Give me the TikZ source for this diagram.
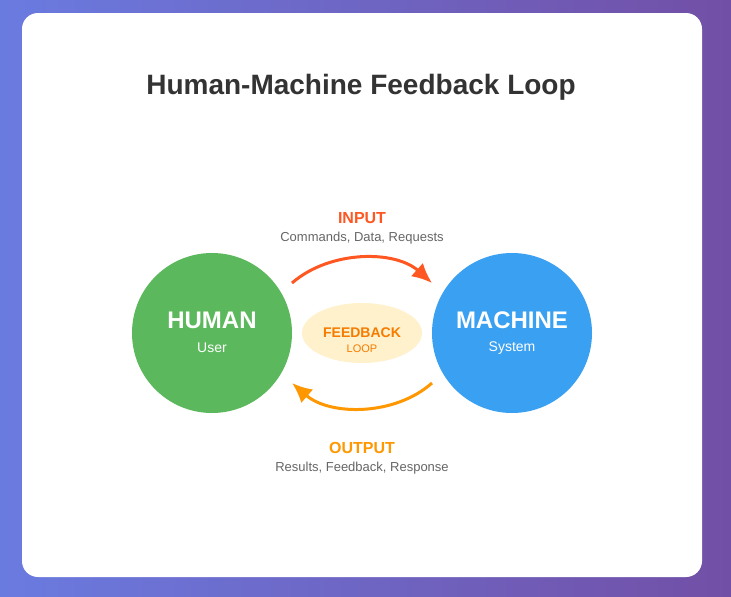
\documentclass[tikz,border=0pt]{standalone}
\usepackage{fontspec}
\setmainfont{Liberation Sans}
\usetikzlibrary{arrows.meta,shapes.geometric}
\definecolor{bgA}{HTML}{6A7BE0}
\definecolor{bgB}{HTML}{724FA6}
\definecolor{humanc}{HTML}{5CB85C}
\definecolor{machinec}{HTML}{3AA0F2}
\definecolor{inc}{HTML}{FF5722}
\definecolor{outc}{HTML}{FF9800}
\definecolor{fbfill}{HTML}{FFF1CC}
\definecolor{fbtext}{HTML}{F57C00}
\definecolor{titlec}{HTML}{333333}
\definecolor{subc}{HTML}{666666}
\tikzset{
  actor/.style={circle,minimum size=160pt,inner sep=0pt},
  big/.style={text=white,font=\bfseries\fontsize{24}{28}\selectfont},
  small/.style={text=white,font=\fontsize{14}{16}\selectfont},
  head/.style={font=\bfseries\fontsize{16}{19}\selectfont},
  note/.style={text=subc,font=\fontsize{13}{15}\selectfont},
  flow/.style={line width=3pt,-{Latex[length=20pt,width=18pt]}}
}
\begin{document}
\begin{tikzpicture}[x=1pt,y=-1pt,inner sep=0pt]
\useasboundingbox (0,0) rectangle (731,597);
\shade[left color=bgA,right color=bgB] (0,0) rectangle (731,597);
\fill[white,rounded corners=16pt] (22,13) rectangle (702,577);
\node[text=titlec,font=\bfseries\fontsize{28}{32}\selectfont] (title) at (361,87) {Human-Machine Feedback Loop};
% the two sides
\node[actor,fill=humanc] (human) at (212,333) {};
\node[big] at (212,320) {HUMAN};
\node[small] at (212,348) {User};
\node[actor,fill=machinec] (machine) at (512,333) {};
\node[big] at (512,320) {MACHINE};
\node[small] at (512,348) {System};
% the loop in the middle
\node[ellipse,fill=fbfill,minimum width=120pt,minimum height=60pt] (fb) at (362,333) {};
\node[text=fbtext,font=\bfseries\fontsize{14}{16}\selectfont] at (362,333) {FEEDBACK};
\node[text=fbtext,font=\fontsize{11}{13}\selectfont] at (362,349) {LOOP};
\node[head,text=inc] (in) at (362,218) {INPUT};
\node[note] (inn) at (362,238) {Commands, Data, Requests};
\node[head,text=outc] (out) at (362,448) {OUTPUT};
\node[note] (outn) at (362,468) {Results, Feedback, Response};
\coordinate (a1) at (292,283); \coordinate (a2) at (432,283);
\coordinate (b1) at (432,383); \coordinate (b2) at (292,383);
\draw[flow,inc] (a1) .. controls (330,250) and (395,250) .. (a2);
\draw[flow,outc] (b1) .. controls (395,416) and (330,416) .. (b2);
\end{tikzpicture}
\end{document}
